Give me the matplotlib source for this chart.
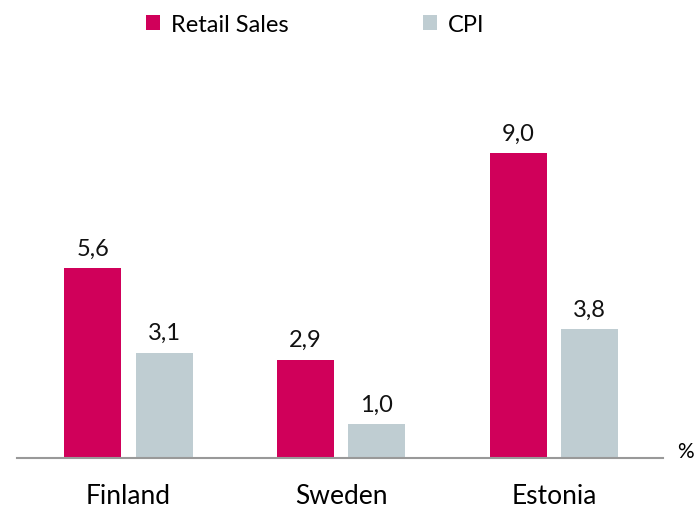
import matplotlib.pyplot as plt
import numpy as np

countries = ["Finland", "Sweden", "Estonia"]
retail_sales = [5.6, 2.9, 9.0]
cpi = [3.1, 1.0, 3.8]
series_names = ["Retail Sales", "CPI"]

red = "#D0005A"
grey = "#BFCDD2"

plt.rcParams['font.family'] = ['Lato', 'DejaVu Sans']

fig = plt.figure(figsize=(6.97, 5.10), dpi=100)
ax = fig.add_axes([17/697, 51/510, 646/697, 398/510])

x = np.arange(len(countries))
w = 0.268
off = 0.167
b1 = ax.bar(x - off, retail_sales, w, color=red, label=series_names[0])
b2 = ax.bar(x + off, cpi, w, color=grey, label=series_names[1])

for bars, vals in [(b1, retail_sales), (b2, cpi)]:
    for bar, v in zip(bars, vals):
        ax.annotate(f"{v:.1f}".replace(".", ","),
                    (bar.get_x() + bar.get_width()/2, v),
                    xytext=(0, 7), textcoords="offset points",
                    ha="center", va="bottom", fontsize=17, color="#111111")

ax.set_xlim(-0.524, 2.512)
ax.set_ylim(0, 11.75)
ax.set_xticks(x)
ax.set_xticklabels(countries, fontsize=19)
ax.tick_params(axis="x", length=0, pad=18)
ax.set_yticks([])
for s in ["top", "right", "left"]:
    ax.spines[s].set_visible(False)
ax.spines["bottom"].set_color("#999999")
ax.spines["bottom"].set_linewidth(1.5)

fig.text(677/697, 1 - 452/510, "%", fontsize=15, va="center", ha="left")

fig.legend(handles=[b1, b2], loc="upper center", bbox_to_anchor=(0.452, 1.012),
           ncol=2, frameon=False, fontsize=17, handlelength=0.6, handleheight=0.6,
           columnspacing=5.7, handletextpad=0.45)

fig.savefig("out.png", dpi=100)
